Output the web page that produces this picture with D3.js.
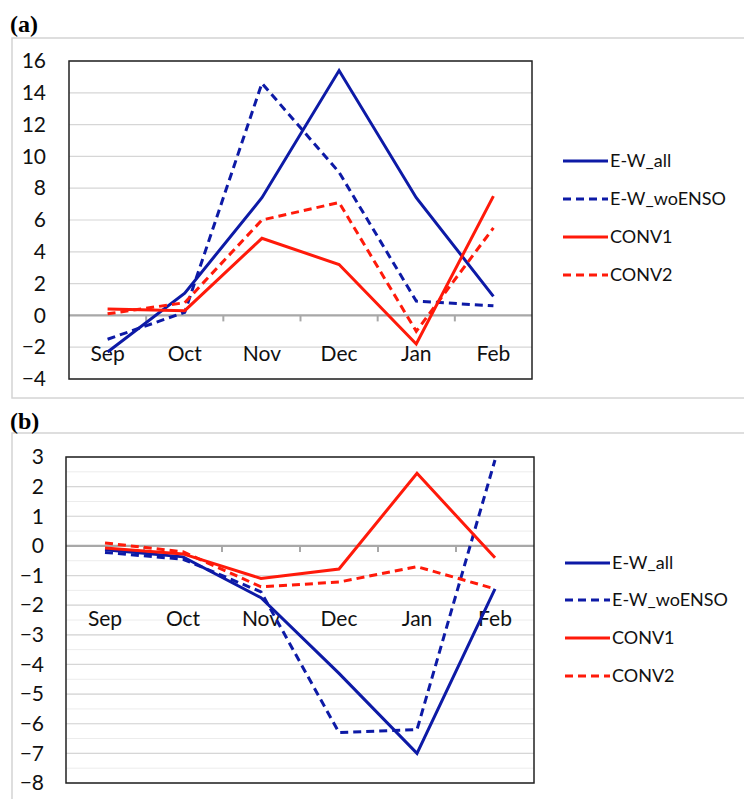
<!DOCTYPE html>
<html><head><meta charset="utf-8">
<script src="https://cdn.jsdelivr.net/npm/d3@7"></script>
<style>
body{margin:0;background:#fff;}
svg{display:block;}
</style></head>
<body>
<svg id="chart" width="744" height="799"></svg>
<script>
const months = ["Sep","Oct","Nov","Dec","Jan","Feb"];
const seriesNames = ["E-W_all","E-W_woENSO","CONV1","CONV2"];
// panel (a)
const a_EW_all    = [-2.3, 1.4, 7.4, 15.4, 7.4, 1.2];
const a_EW_woENSO = [-1.5, 0.2, 14.6, 9.0, 0.9, 0.6];
const a_CONV1     = [0.4, 0.3, 4.85, 3.2, -1.8, 7.5];
const a_CONV2     = [0.1, 0.8, 6.0, 7.1, -1.0, 5.5];
const a_ticks = [-4,-2,0,2,4,6,8,10,12,14,16];
// panel (b)
const b_EW_all    = [-0.13, -0.37, -1.75, -4.3, -7.0, -1.45];
const b_EW_woENSO = [-0.22, -0.45, -1.55, -6.3, -6.2, 2.9];
const b_CONV1     = [-0.07, -0.27, -1.1, -0.78, 2.45, -0.4];
const b_CONV2     = [0.1, -0.2, -1.38, -1.22, -0.7, -1.45];
const b_ticks = [-8,-7,-6,-5,-4,-3,-2,-1,0,1,2,3];

const colors = ["#0d1aa6","#0d1aa6","#ff1a0a","#ff1a0a"];
const dashes = [null,"8,5",null,"8,5"];

const svg = d3.select("#chart");
const font = "Lato, 'Open Sans', sans-serif";

function panel(cfg){
  const g = svg.append("g");
  g.append("rect").attr("x",cfg.outer[0]).attr("y",cfg.outer[1])
    .attr("width",cfg.outer[2]).attr("height",cfg.outer[3])
    .attr("fill","none").attr("stroke","#d4d4d4").attr("stroke-width",1.5);
  g.append("text").attr("x",cfg.letterPos[0]).attr("y",cfg.letterPos[1])
    .attr("font-family","'Liberation Serif', 'DejaVu Serif', serif")
    .attr("font-weight","bold").attr("font-size",24).text(cfg.letter);

  const x = d3.scaleBand().domain(months).range([cfg.left,cfg.right]);
  const y = d3.scaleLinear().domain(cfg.domain).range([cfg.bottom,cfg.top]);

  if(cfg.minor){
    const mins = d3.range(cfg.domain[0], cfg.domain[1]+1e-9, cfg.minor);
    g.append("g").selectAll("line").data(mins).join("line")
      .attr("x1",cfg.left).attr("x2",cfg.right)
      .attr("y1",d=>y(d)).attr("y2",d=>y(d))
      .attr("stroke","#ececec").attr("stroke-width",1);
  }
  g.append("g").selectAll("line").data(cfg.ticks).join("line")
    .attr("x1",cfg.left).attr("x2",cfg.right)
    .attr("y1",d=>y(d)).attr("y2",d=>y(d))
    .attr("stroke","#d6d6d6").attr("stroke-width",1.2);

  const ya = d3.axisLeft(y).tickValues(cfg.ticks).tickSize(0).tickPadding(cfg.labelPad)
    .tickFormat(d3.format("d"));
  const yg = g.append("g").attr("transform",`translate(${cfg.left},0)`).call(ya);
  yg.select(".domain").remove();
  yg.selectAll("text").attr("font-family",font).attr("font-size",21).attr("fill","#111");

  g.append("line").attr("x1",cfg.left).attr("x2",cfg.right)
    .attr("y1",y(0)).attr("y2",y(0)).attr("stroke","#a8a8a8").attr("stroke-width",2.2);
  const bounds = months.slice(1).map(m=>x(m));
  g.append("g").selectAll("line").data(bounds).join("line")
    .attr("x1",d=>d).attr("x2",d=>d).attr("y1",y(0)).attr("y2",y(0)+6)
    .attr("stroke","#a8a8a8").attr("stroke-width",2);

  g.append("g").selectAll("text").data(months).join("text")
    .attr("x",d=>x(d)+x.bandwidth()/2).attr("y",cfg.monthY)
    .attr("text-anchor","middle").attr("font-family",font).attr("font-size",21)
    .attr("fill","#111").text(d=>d);

  const line = d3.line().x((d,i)=>x(months[i])+x.bandwidth()/2).y(d=>y(d));
  cfg.series.forEach((s,i)=>{
    g.append("path").datum(s).attr("d",line).attr("fill","none")
      .attr("stroke",colors[i]).attr("stroke-width",3)
      .attr("stroke-dasharray",dashes[i]).attr("stroke-linejoin","miter");
  });

  g.append("rect").attr("x",cfg.left).attr("y",cfg.top)
    .attr("width",cfg.right-cfg.left).attr("height",cfg.bottom-cfg.top)
    .attr("fill","none").attr("stroke","#222").attr("stroke-width",1.5);

  seriesNames.forEach((n,i)=>{
    const ly = cfg.legendY[i];
    g.append("line").attr("x1",cfg.legendX).attr("x2",cfg.legendX+45)
      .attr("y1",ly).attr("y2",ly).attr("stroke",colors[i]).attr("stroke-width",3)
      .attr("stroke-dasharray",dashes[i]);
    g.append("text").attr("x",cfg.legendX+47).attr("y",ly).attr("dy","0.35em")
      .attr("font-family",font).attr("font-size",18).attr("fill","#111").text(n);
  });
}

panel({
  letter:"(a)", letterPos:[10,32], outer:[12,38,740,360],
  left:69, right:532, top:61, bottom:379, domain:[-4,16], ticks:a_ticks, minor:null,
  labelPad:23, monthY:361, legendX:563, legendY:[161,199,237,275],
  series:[a_EW_all,a_EW_woENSO,a_CONV1,a_CONV2]
});
panel({
  letter:"(b)", letterPos:[10,429], outer:[12,433,740,380],
  left:66, right:534, top:457, bottom:783, domain:[-8,3], ticks:b_ticks, minor:0.5,
  labelPad:22, monthY:626, legendX:565, legendY:[563,600,638,676],
  series:[b_EW_all,b_EW_woENSO,b_CONV1,b_CONV2]
});
</script>
</body></html>
